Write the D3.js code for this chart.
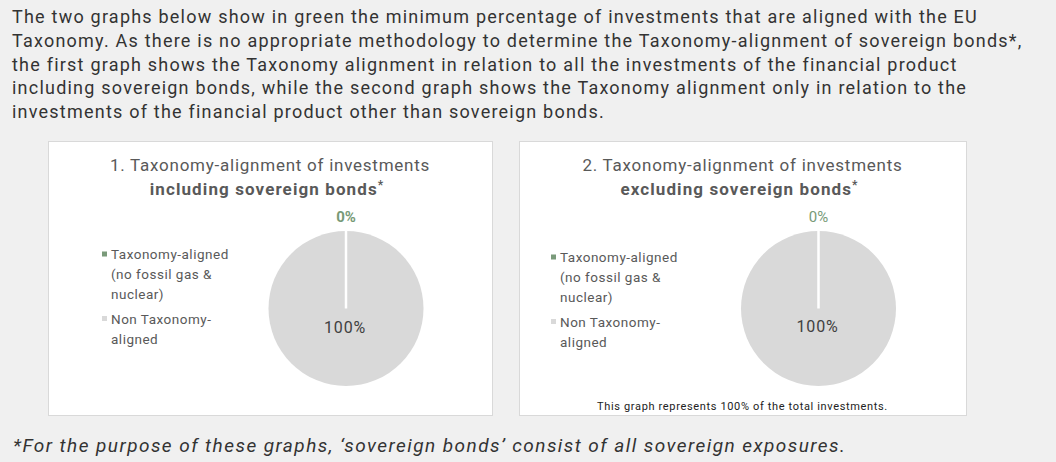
<!DOCTYPE html>
<html>
<head>
<meta charset="utf-8">
<script src="https://cdn.jsdelivr.net/npm/d3@7"></script>
<style>
  body { margin: 0; background: #f0f0f0; }
  svg { display: block; }
</style>
</head>
<body>
<script>
const categories = ["Taxonomy-aligned (no fossil gas & nuclear)", "Non Taxonomy-aligned"];
const legendLines = [["Taxonomy-aligned", "(no fossil gas &", "nuclear)"], ["Non Taxonomy-", "aligned"]];
const includingValues = [0, 100];
const excludingValues = [0, 100];
const sliceColors = ["#7a9a7a", "#d9d9d9"];

const introLines = [
  "The two graphs below show in green the minimum percentage of investments that are aligned with the EU",
  "Taxonomy. As there is no appropriate methodology to determine the Taxonomy-alignment of sovereign bonds*,",
  "the first graph shows the Taxonomy alignment in relation to all the investments of the financial product",
  "including sovereign bonds, while the second graph shows the Taxonomy alignment only in relation to the",
  "investments of the financial product other than sovereign bonds."
];
const footnote = "*For the purpose of these graphs, \u2018sovereign bonds\u2019 consist of all sovereign exposures.";

const width = 1056;
const height = 462;
const font = "Roboto, 'Noto Sans', sans-serif";

const svg = d3
  .select("body")
  .append("svg")
  .attr("width", width)
  .attr("height", height);

svg.append("rect").attr("width", width).attr("height", height).attr("fill", "#f0f0f0");

// intro paragraph
svg
  .append("g")
  .selectAll("text")
  .data(introLines)
  .join("text")
  .attr("x", 12)
  .attr("y", (d, i) => 23 + i * 23.8)
  .attr("font-family", font)
  .attr("font-size", 18)
  .attr("letter-spacing", "1.22px")
  .attr("fill", "#333")
  .text((d) => d);

svg
  .append("text")
  .attr("x", 13)
  .attr("y", 452)
  .attr("font-family", font)
  .attr("font-size", 19)
  .attr("font-style", "italic")
  .attr("letter-spacing", "1.45px")
  .attr("fill", "#333")
  .text(footnote);

const panels = [
  { x: 48, w: 444, num: "1.", bold: "including sovereign bonds", values: includingValues, boldPct: true, note: null, dy: 0 },
  { x: 519, w: 447, num: "2.", bold: "excluding sovereign bonds", values: excludingValues, boldPct: false,
    note: "This graph represents 100% of the total investments.", dy: 3 }
];

const panelTop = 141;
const panelH = 274;
const radius = 77.5;

const pie = d3.pie().sort(null).startAngle(0).endAngle(2 * Math.PI);
const arc = d3.arc().innerRadius(0).outerRadius(radius);

panels.forEach((p) => {
  const g = svg.append("g").attr("transform", `translate(${p.x},${panelTop})`);

  g.append("rect")
    .attr("x", 0.5)
    .attr("y", 0.5)
    .attr("width", p.w)
    .attr("height", panelH)
    .attr("fill", "#fff")
    .attr("stroke", "#d9d9d9");

  const cx = p.w / 2;

  g.append("text")
    .attr("x", cx)
    .attr("y", 29.5)
    .attr("text-anchor", "middle")
    .attr("font-family", font)
    .attr("font-size", 17)
    .attr("letter-spacing", "0.75px")
    .attr("fill", "#595959")
    .text(`${p.num} Taxonomy-alignment of investments`);

  const t2 = g
    .append("text")
    .attr("x", cx - 3)
    .attr("y", 54)
    .attr("text-anchor", "middle")
    .attr("font-family", font)
    .attr("font-size", 17)
    .attr("font-weight", "bold")
    .attr("letter-spacing", "1.1px")
    .attr("fill", "#595959");
  t2.append("tspan").text(p.bold);
  t2.append("tspan").attr("dy", -6).attr("font-size", 12).text("*");

  // pie: small slice drawn last so its white edge shows
  const pcx = cx + 76;
  const pcy = 167.5;
  const pg = g.append("g").attr("transform", `translate(${pcx},${pcy})`);
  const arcs = pie(p.values);

  pg.selectAll("path")
    .data(arcs.slice().reverse())
    .join("path")
    .attr("d", arc)
    .attr("fill", (d) => sliceColors[d.index])
    .attr("stroke", "#fff")
    .attr("stroke-width", (d) => (d.value === 0 ? 2.5 : 0));

  // labels
  pg.append("text")
    .attr("x", 0)
    .attr("y", -radius - 9.5)
    .attr("text-anchor", "middle")
    .attr("font-family", font)
    .attr("font-size", 15)
    .attr("font-weight", p.boldPct ? "bold" : "normal")
    .attr("fill", "#779a77")
    .text(`${p.values[0]}%`);

  pg.append("text")
    .attr("x", -1)
    .attr("y", 24.5 - p.dy / 2)
    .attr("text-anchor", "middle")
    .attr("font-family", font)
    .attr("font-size", 16)
    .attr("letter-spacing", "0.8px")
    .attr("fill", "#404040")
    .text(`${p.values[1]}%`);

  // legend
  const lx = p.x === 48 ? 54 : 32;
  const legend = g.append("g").attr("transform", `translate(${lx},${118 + p.dy})`);
  let yPos = 0;
  legendLines.forEach((lines, i) => {
    legend
      .append("rect")
      .attr("x", 0)
      .attr("y", yPos - 7.5)
      .attr("width", 5)
      .attr("height", 5)
      .attr("fill", sliceColors[i]);
    lines.forEach((line, j) => {
      legend
        .append("text")
        .attr("x", 9)
        .attr("y", yPos + j * 20)
        .attr("font-family", font)
        .attr("font-size", 13.5)
        .attr("letter-spacing", "0.5px")
        .attr("fill", "#595959")
        .text(line);
    });
    yPos += lines.length * 20 + 4.5;
  });

  if (p.note) {
    g.append("text")
      .attr("x", cx)
      .attr("y", 269)
      .attr("text-anchor", "middle")
      .attr("font-family", font)
      .attr("font-size", 11)
      .attr("letter-spacing", "0.65px")
      .attr("fill", "#222")
      .text(p.note);
  }
});
</script>
</body>
</html>
